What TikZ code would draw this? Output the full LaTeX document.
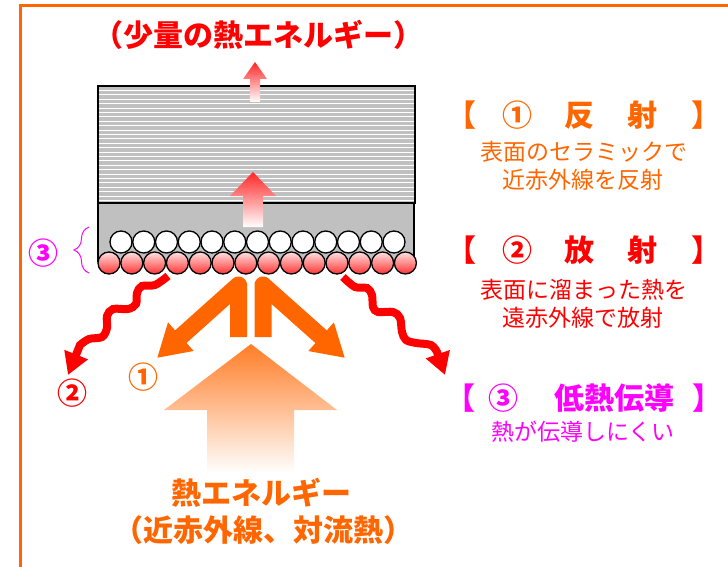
\documentclass[tikz,border=0pt]{standalone}
\usepackage{fontspec}
\newfontfamily\jp{Noto Sans CJK JP}
\usetikzlibrary{arrows.meta,decorations.pathreplacing}

\definecolor{heatorange}{HTML}{FF6600}
\definecolor{heatred}{HTML}{FF0000}
\definecolor{heatpink}{HTML}{FF00FF}
\definecolor{tilegray}{HTML}{C0C0C0}

\tikzset{
  headtxt/.style={inner sep=0pt,font=\jp\bfseries\fontsize{30}{34}\selectfont},
  bodytxt/.style={inner sep=0pt,font=\jp\fontsize{23}{27}\selectfont},
  numtxt/.style={inner sep=0pt,font=\jp\bfseries\fontsize{30}{34}\selectfont},
  whiteball/.style={draw=black,fill=white,line width=1.3pt},
  redball/.style={draw=black,line width=1.3pt,top color=red!12,bottom color=red!80},
  wave/.style={heatred,line width=8pt,-{Triangle[width=24pt,length=22pt]}},
  reflect/.style={heatorange,line width=17pt,line join=round,-{Triangle[width=36pt,length=32pt]}},
}

\begin{document}
\begin{tikzpicture}[x=1pt,y=-1pt]
  \useasboundingbox (0,0) rectangle (728,567);
  % frame
  \draw[heatorange,line width=3pt] (20,567) -- (20,6) -- (728,6);

  % tile: striped top and plain base
  \fill[tilegray] (98,86) rectangle (415,203);
  \foreach \i in {1,...,26}
    \draw[white,line width=0.9pt] (99,{86+4.4*\i}) -- (414,{86+4.4*\i});
  \draw[line width=1.3pt] (98,86) rectangle (415,203);
  \filldraw[fill=tilegray,line width=1.3pt] (98,262) -- (98,203) -- (414,203) -- (414,262);

  % heat going up through the tile
  \shade[top color=red!85,bottom color=white]
    (250,102) -- (250,79) -- (243,79) -- (255,62) -- (267,79) -- (260,79) -- (260,102) -- cycle;
  \shade[top color=red!85,bottom color=white]
    (243,227) -- (243,196) -- (230,196) -- (253,172) -- (276,196) -- (263,196) -- (263,227) -- cycle;

  % particle layers
  \foreach \i in {0,...,12}
    \draw[whiteball] ({121+22.75*\i},242) circle (11pt);
  \foreach \i in {0,...,13}
    \draw[redball] ({109+22.8*\i},263) circle (11pt);

  % incoming heat
  \shade[top color=heatorange!85!white,middle color=heatorange!40!white,bottom color=white]
    (207,473) -- (207,410) -- (164,410) -- (251,344) -- (337,410) -- (294,410) -- (294,473) -- cycle;

  % reflection
  \draw[reflect] (238.5,337) -- (238.5,285) -- (157,358);
  \draw[reflect] (263,337) -- (263,285) -- (345,358);

  % radiation
  \draw[wave] plot[smooth,tension=0.55] coordinates {(168,276) (155,285) (142,286) (137,293) (136,304)
    (128,309) (113,309) (107,316) (107,328) (102,337) (89,339) (80,345)} -- (68,375);
  \draw[wave] plot[smooth,tension=0.55] coordinates {(343,277) (355,287) (367,288) (372,295) (373,307)
    (378,312) (393,312) (400,318) (402,332) (406,340) (416,343) (431,345) (437,352)} -- (445,375);

  % brace for the insulating layer
  \draw[heatpink,line width=1pt,decorate,decoration={brace,amplitude=15pt}] (89,273) -- (89,227);

  \node[numtxt,heatpink] (n3) at (43,253) {③};
  \node[numtxt,heatred] (n2) at (72,393) {②};
  \node[numtxt,heatorange] (n1) at (143,377) {①};

  \node[headtxt,heatred] (title) at (258,35) {（少量の熱エネルギー）};
  \node[headtxt,heatorange] (src) at (261,493) {熱エネルギー};
  \node[headtxt,heatorange] (srcsub) at (263,530) {（近赤外線、対流熱）};

  % explanations
  \node[headtxt,heatorange] (h1) at (584,115) {【\hspace{26pt}①\hspace{32pt}反\hspace{33pt}射\hspace{34pt}】};
  \node[bodytxt,heatorange] (h1a) at (584,152) {表面のセラミックで};
  \node[bodytxt,heatorange] (h1b) at (583,180) {近赤外線を反射};

  \node[headtxt,heatred] (h2) at (584,250) {【\hspace{26pt}②\hspace{32pt}放\hspace{33pt}射\hspace{34pt}】};
  \node[bodytxt,heatred] (h2a) at (584,290) {表面に溜まった熱を};
  \node[bodytxt,heatred] (h2b) at (583,318) {遠赤外線で放射};

  \node[headtxt,heatpink] (h3) at (584,398) {【\hspace{14pt}③\hspace{36pt}低熱伝導\hspace{18pt}】};
  \node[bodytxt,heatpink] (h3a) at (583,432) {熱が伝導しにくい};
\end{tikzpicture}
\end{document}
